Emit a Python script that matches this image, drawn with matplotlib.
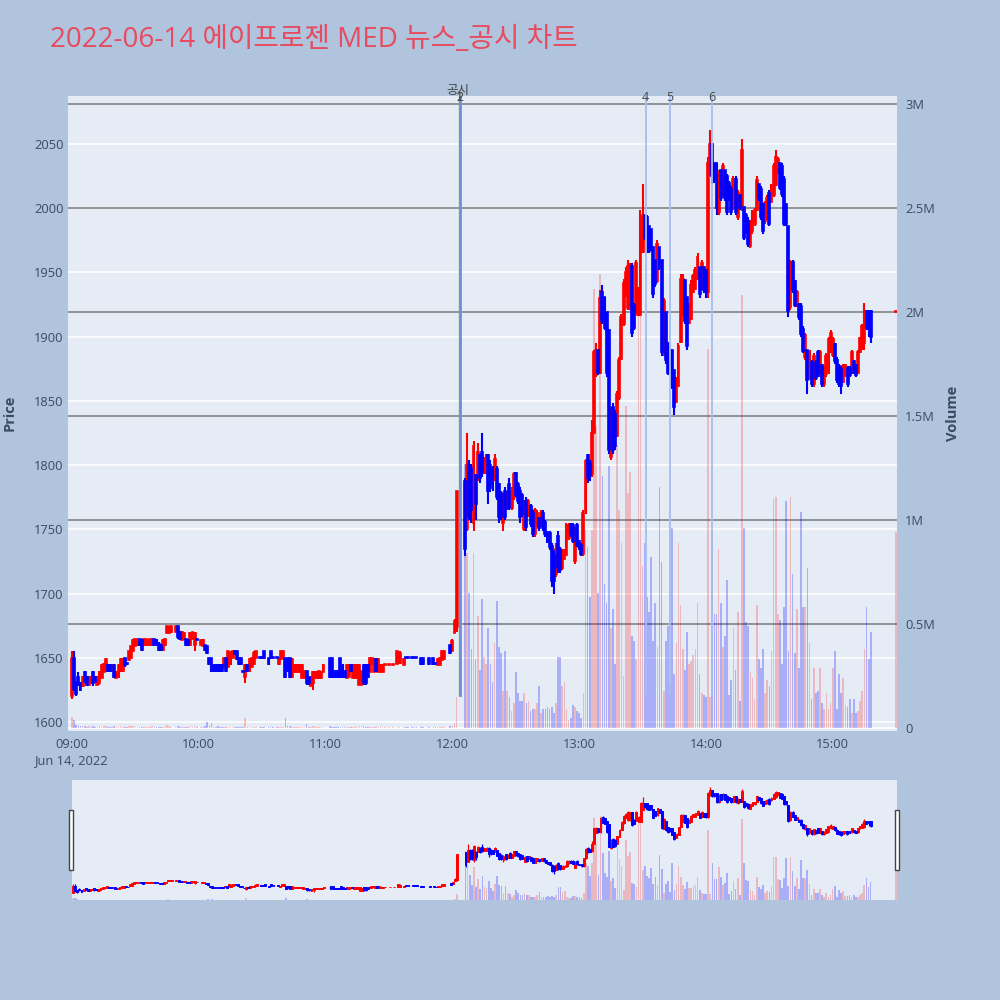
import matplotlib
matplotlib.use("Agg")
import matplotlib.pyplot as plt
import matplotlib.transforms as mtransforms
from matplotlib.patches import Rectangle

TITLE = "2022-06-14 에이프로젠 MED 뉴스_공시 차트"

# minutes after 09:00 (morning has minutes with no trades)
minutes = (list(range(0, 48)) + list(range(49, 60)) + list(range(61, 88))
           + [89, 90, 91, 93, 94, 95, 97] + list(range(98, 120)) + list(range(122, 148))
           + [148, 150, 152, 154, 155, 157, 158, 159, 161, 162,
              163, 165, 166, 169, 171, 172, 173, 174, 175, 176]
           + [179, 180, 181, 182] + list(range(186, 379)) + [390])

opens = [
    1620, 1650, 1630, 1635, 1630, 1628, 1639, 1635, 1629, 1630,
    1639, 1635, 1629, 1630, 1634, 1639, 1640, 1644, 1644, 1640,
    1644, 1634, 1635, 1640, 1640, 1650, 1646, 1648, 1650, 1655,
    1659, 1660, 1665, 1664, 1660, 1660, 1660, 1660, 1660, 1665,
    1664, 1661, 1660, 1656, 1660, 1669, 1669, 1670,
    1670, 1675, 1670, 1664, 1665, 1665, 1664, 1660, 1665, 1660, 1665,
    1660, 1659, 1660, 1659, 1650, 1650, 1644, 1644, 1644, 1644,
    1644, 1643, 1650, 1643, 1645, 1650, 1655, 1655, 1650, 1650,
    1640, 1635, 1644, 1640, 1643, 1645, 1650,
    1651, 1651, 1655, 1650, 1655, 1651, 1651,
    1645, 1649, 1650, 1650, 1650, 1650, 1635, 1639, 1639, 1639,
    1639, 1634, 1634, 1640, 1635, 1628, 1630, 1634, 1634, 1634, 1634, 1639,
    1650, 1650, 1640, 1640, 1640, 1650, 1644, 1640, 1634, 1635,
    1644, 1634, 1634, 1634, 1629, 1629, 1644, 1644, 1644, 1639,
    1645, 1639, 1649, 1639, 1639, 1639,
    1644, 1644, 1644, 1645, 1646, 1644, 1651, 1651, 1651, 1651,
    1651, 1650, 1650, 1650, 1650, 1646, 1644, 1644, 1648, 1649,
    1660, 1655, 1669, 1674,
    1788, 1750, 1800, 1798, 1755, 1792, 1790, 1808, 1810, 1794,
    1795, 1808, 1800, 1797, 1790, 1797, 1785, 1778, 1755, 1780,
    1766, 1785, 1767, 1775, 1794, 1785, 1780, 1777, 1750, 1772,
    1761, 1768, 1763, 1746, 1754, 1759, 1753, 1763, 1756, 1748,
    1747, 1737, 1730, 1715, 1745, 1735, 1720, 1727, 1730, 1743,
    1754, 1753, 1725, 1753, 1741, 1738, 1731, 1764, 1808, 1802, 1793,
    1825, 1870, 1890, 1872, 1935, 1931, 1919, 1905, 1806, 1845,
    1840, 1823, 1852, 1883, 1910, 1932, 1922, 1922, 1955, 1925,
    1919, 1917, 1917, 1966, 1995, 1993, 1986, 1984, 1970, 1960,
    1943, 1970, 1960, 1886, 1919, 1895, 1890, 1890, 1874, 1849,
    1862, 1896, 1917, 1944, 1931, 1911, 1914, 1935, 1937, 1945,
    1954, 1937, 1954, 1952,
    1935, 2028, 2050, 2035, 2035, 1997, 2030, 2010, 2030, 2025,
    2020, 2015, 2000, 2023, 1993, 2010, 2000, 2001, 1995, 1990,
    1971, 1982, 1988, 1999, 2019, 2015, 2003, 1990, 1993, 2012,
    2005, 2010, 2018, 2028, 2035, 2033, 2023, 2003, 1986, 1923,
    1958, 1943, 1924, 1925, 1924, 1906, 1884, 1890, 1868, 1880,
    1863, 1880, 1888, 1871, 1878, 1863, 1871, 1873, 1889, 1886,
    1894, 1882, 1877, 1875, 1865, 1870, 1876, 1876, 1872, 1881,
    1878, 1872, 1888, 1891, 1895, 1920, 1920, 1920,
    1919,
]

highs = [
    1655, 1655, 1632, 1639, 1631, 1636, 1640, 1636, 1636, 1636,
    1640, 1636, 1636, 1640, 1645, 1646, 1650, 1645, 1645, 1645,
    1645, 1640, 1645, 1650, 1650, 1650, 1646, 1655, 1659, 1665,
    1665, 1665, 1665, 1665, 1665, 1665, 1664, 1665, 1665, 1665,
    1665, 1662, 1660, 1665, 1665, 1675, 1675, 1675,
    1675, 1675, 1670, 1670, 1670, 1665, 1665, 1670, 1670, 1670, 1665,
    1664, 1665, 1660, 1659, 1650, 1650, 1645, 1645, 1645, 1645,
    1645, 1650, 1650, 1655, 1655, 1655, 1655, 1655, 1650, 1650,
    1640, 1645, 1645, 1650, 1650, 1655, 1655,
    1651, 1651, 1655, 1650, 1655, 1651, 1651,
    1650, 1655, 1655, 1650, 1650, 1650, 1650, 1645, 1645, 1645,
    1645, 1645, 1640, 1640, 1635, 1635, 1640, 1640, 1640, 1640, 1640, 1645,
    1650, 1650, 1640, 1640, 1640, 1650, 1645, 1640, 1645, 1645,
    1645, 1645, 1645, 1645, 1645, 1640, 1645, 1645, 1645, 1650,
    1650, 1650, 1650, 1650, 1645, 1645,
    1645, 1645, 1645, 1655, 1655, 1650, 1651, 1651, 1651, 1651,
    1651, 1650, 1650, 1650, 1650, 1646, 1650, 1650, 1655, 1655,
    1660, 1665, 1680, 1780,
    1790, 1825, 1804, 1801, 1819, 1793, 1817, 1809, 1825, 1806,
    1809, 1809, 1804, 1799, 1809, 1799, 1786, 1780, 1778, 1783,
    1780, 1790, 1783, 1795, 1795, 1787, 1783, 1778, 1773, 1775,
    1774, 1770, 1765, 1767, 1765, 1760, 1765, 1765, 1757, 1749,
    1749, 1739, 1734, 1739, 1749, 1736, 1735, 1735, 1755, 1755,
    1755, 1755, 1752, 1755, 1742, 1739, 1765, 1805, 1809, 1804, 1835,
    1890, 1895, 1890, 1936, 1940, 1931, 1919, 1905, 1845, 1848,
    1843, 1858, 1884, 1918, 1945, 1954, 1960, 1957, 1957, 1926,
    1960, 1939, 1999, 2019, 1995, 1995, 1986, 1984, 1970, 1960,
    1975, 1970, 1960, 1930, 1919, 1895, 1890, 1890, 1874, 1869,
    1895, 1949, 1949, 1944, 1931, 1926, 1944, 1949, 1954, 1965,
    1954, 1960, 1954, 1952,
    2040, 2061, 2050, 2035, 2035, 2030, 2030, 2035, 2030, 2027,
    2021, 2017, 2025, 2025, 2014, 2010, 2054, 2001, 1996, 1993,
    1991, 1999, 2000, 2025, 2019, 2017, 2004, 2006, 2010, 2014,
    2019, 2035, 2045, 2040, 2035, 2035, 2025, 2004, 1986, 1960,
    1960, 1944, 1936, 1926, 1926, 1908, 1903, 1890, 1890, 1882,
    1887, 1882, 1890, 1890, 1879, 1877, 1887, 1900, 1905, 1900,
    1895, 1884, 1879, 1877, 1879, 1879, 1877, 1877, 1890, 1882,
    1879, 1890, 1900, 1910, 1926, 1921, 1921, 1921,
    1920,
]

lows = [
    1618, 1624, 1620, 1628, 1624, 1627, 1630, 1628, 1629, 1630,
    1628, 1630, 1629, 1629, 1634, 1639, 1639, 1639, 1639, 1639,
    1634, 1634, 1634, 1639, 1639, 1643, 1644, 1648, 1650, 1655,
    1659, 1659, 1659, 1655, 1659, 1659, 1659, 1659, 1659, 1659,
    1659, 1655, 1655, 1655, 1659, 1669, 1669, 1669,
    1670, 1665, 1664, 1664, 1664, 1659, 1659, 1659, 1665, 1655, 1664,
    1660, 1659, 1655, 1653, 1644, 1639, 1639, 1639, 1639, 1639,
    1639, 1643, 1639, 1643, 1644, 1650, 1652, 1648, 1644, 1644,
    1639, 1630, 1639, 1639, 1643, 1644, 1650,
    1650, 1650, 1649, 1644, 1649, 1650, 1650,
    1644, 1648, 1650, 1634, 1639, 1634, 1634, 1639, 1639, 1639,
    1639, 1634, 1634, 1629, 1629, 1628, 1625, 1634, 1634, 1634, 1634, 1639,
    1634, 1634, 1634, 1634, 1634, 1634, 1634, 1634, 1634, 1635,
    1639, 1634, 1634, 1634, 1629, 1629, 1629, 1629, 1634, 1639,
    1644, 1639, 1639, 1639, 1639, 1639,
    1644, 1644, 1644, 1645, 1645, 1644, 1650, 1650, 1650, 1650,
    1650, 1644, 1644, 1644, 1644, 1644, 1644, 1644, 1648, 1648,
    1653, 1655, 1669, 1670,
    1729, 1749, 1757, 1755, 1749, 1757, 1788, 1786, 1791, 1793,
    1793, 1770, 1779, 1780, 1788, 1773, 1755, 1757, 1749, 1757,
    1765, 1765, 1765, 1773, 1775, 1770, 1755, 1760, 1749, 1749,
    1760, 1752, 1744, 1744, 1752, 1749, 1752, 1749, 1744, 1739,
    1734, 1705, 1700, 1713, 1716, 1716, 1718, 1726, 1729, 1742,
    1744, 1739, 1723, 1736, 1734, 1729, 1729, 1762, 1786, 1788, 1791,
    1825, 1869, 1870, 1871, 1910, 1905, 1869, 1809, 1804, 1809,
    1812, 1822, 1851, 1882, 1908, 1931, 1921, 1921, 1900, 1905,
    1918, 1916, 1916, 1965, 1975, 1965, 1965, 1967, 1930, 1939,
    1942, 1952, 1885, 1885, 1879, 1870, 1874, 1859, 1839, 1848,
    1861, 1895, 1916, 1910, 1890, 1910, 1913, 1934, 1936, 1944,
    1930, 1936, 1934, 1930,
    1930, 2025, 2019, 2020, 1995, 1995, 2006, 2009, 2006, 1995,
    2006, 1995, 1999, 1995, 1991, 1999, 1998, 1975, 1980, 1970,
    1969, 1980, 1986, 1998, 2006, 1991, 1980, 1988, 1991, 1986,
    2004, 2009, 2017, 2027, 2014, 2009, 1986, 1986, 1915, 1921,
    1934, 1923, 1923, 1913, 1900, 1887, 1882, 1855, 1866, 1861,
    1861, 1866, 1869, 1869, 1861, 1861, 1869, 1871, 1887, 1884,
    1879, 1864, 1861, 1855, 1864, 1869, 1861, 1869, 1871, 1871,
    1869, 1871, 1887, 1890, 1890, 1905, 1900, 1895,
    1919,
]

closes = [
    1650, 1626, 1622, 1630, 1625, 1635, 1632, 1629, 1635, 1635,
    1630, 1631, 1635, 1639, 1644, 1645, 1649, 1640, 1640, 1644,
    1635, 1639, 1644, 1649, 1649, 1644, 1645, 1655, 1659, 1664,
    1665, 1665, 1660, 1656, 1665, 1665, 1664, 1665, 1665, 1660,
    1660, 1656, 1656, 1664, 1665, 1675, 1674, 1675,
    1675, 1666, 1665, 1670, 1669, 1660, 1660, 1669, 1670, 1669, 1664,
    1664, 1664, 1656, 1654, 1645, 1640, 1640, 1640, 1640, 1640,
    1640, 1650, 1640, 1655, 1654, 1655, 1653, 1649, 1645, 1645,
    1639, 1644, 1640, 1649, 1650, 1654, 1655,
    1650, 1650, 1650, 1645, 1650, 1650, 1650,
    1650, 1655, 1655, 1635, 1640, 1635, 1649, 1644, 1644, 1644,
    1644, 1644, 1640, 1630, 1630, 1635, 1639, 1639, 1639, 1640, 1639, 1644,
    1635, 1635, 1635, 1635, 1635, 1635, 1635, 1635, 1644, 1644,
    1640, 1644, 1644, 1644, 1644, 1640, 1630, 1630, 1635, 1650,
    1650, 1649, 1640, 1649, 1644, 1644,
    1645, 1645, 1645, 1655, 1654, 1649, 1650, 1650, 1650, 1650,
    1650, 1645, 1645, 1645, 1645, 1645, 1649, 1650, 1655, 1655,
    1654, 1663, 1679, 1780,
    1735, 1800, 1760, 1765, 1815, 1770, 1810, 1790, 1795, 1805,
    1805, 1780, 1785, 1782, 1805, 1775, 1760, 1760, 1775, 1760,
    1778, 1767, 1780, 1793, 1777, 1772, 1760, 1762, 1770, 1752,
    1772, 1754, 1746, 1765, 1763, 1751, 1763, 1751, 1746, 1741,
    1736, 1710, 1710, 1735, 1720, 1718, 1733, 1733, 1753, 1753,
    1746, 1741, 1750, 1738, 1736, 1731, 1763, 1803, 1790, 1792, 1825,
    1888, 1890, 1872, 1930, 1912, 1907, 1872, 1812, 1840, 1812,
    1815, 1855, 1882, 1915, 1942, 1950, 1955, 1955, 1903, 1907,
    1957, 1935, 1995, 1993, 1977, 1968, 1967, 1969, 1933, 1941,
    1972, 1954, 1888, 1928, 1882, 1872, 1876, 1862, 1845, 1867,
    1893, 1945, 1945, 1912, 1893, 1925, 1940, 1947, 1952, 1962,
    1933, 1957, 1936, 1935,
    2035, 2050, 2025, 2022, 2000, 2028, 2008, 2033, 2008, 1997,
    2008, 1997, 2023, 1997, 2012, 2000, 2045, 1977, 1982, 1972,
    1989, 1997, 1999, 2022, 2008, 1993, 1982, 2004, 2008, 1988,
    2017, 2033, 2040, 2038, 2016, 2011, 1988, 1988, 1920, 1958,
    1936, 1925, 1935, 1915, 1902, 1889, 1901, 1866, 1888, 1863,
    1885, 1868, 1871, 1888, 1863, 1875, 1885, 1898, 1903, 1898,
    1881, 1866, 1863, 1862, 1877, 1878, 1863, 1870, 1888, 1872,
    1870, 1888, 1899, 1908, 1920, 1907, 1910, 1900,
    1920,
]

# traded volume, thousands of shares
volumes_k = [
    55, 40, 15, 10, 12, 8, 10, 6, 9, 5,
    8, 5, 7, 10, 6, 8, 12, 5, 6, 4,
    9, 5, 7, 10, 6, 5, 3, 8, 12, 9,
    6, 5, 4, 7, 5, 6, 4, 5, 8, 4,
    5, 6, 4, 7, 5, 14, 8, 6,
    5, 9, 6, 5, 4, 7, 5, 8, 4, 10, 3,
    5, 4, 12, 30, 10, 22, 6, 5, 8, 4,
    5, 6, 5, 7, 4, 5, 3, 4, 5, 4,
    3, 47, 5, 6, 5, 7, 4,
    3, 3, 5, 4, 5, 3, 3,
    5, 6, 4, 47, 8, 10, 7, 5, 4, 6,
    4, 5, 6, 20, 6, 5, 8, 4, 5, 6, 4, 5,
    8, 6, 5, 4, 5, 7, 4, 5, 6, 4,
    5, 6, 4, 5, 12, 6, 8, 5, 4, 6,
    5, 4, 5, 6, 4, 5,
    3, 3, 3, 6, 5, 4, 3, 3, 3, 3,
    3, 4, 4, 4, 5, 3, 5, 4, 6, 5,
    8, 10, 25, 150,
    1270, 840, 650, 380, 840, 330, 540, 280, 620, 340,
    310, 480, 310, 220, 410, 610, 390, 360, 180, 370,
    180, 150, 80, 120, 270, 170, 130, 130, 170, 120,
    130, 80, 90, 90, 120, 200, 70, 90, 90, 100,
    90, 100, 70, 120, 340, 340, 200, 220, 90, 40,
    50, 110, 100, 80, 70, 50, 170, 950, 870, 630,
    950, 2110, 1450, 650, 2180, 1210, 690, 600, 1260, 480,
    570, 310, 1360, 1050, 890, 250, 1550, 1130, 1230, 440,
    420, 330, 1990, 2030, 780, 890, 630, 560, 820, 420,
    600, 390, 1160, 800, 180, 420, 490, 210, 960, 260,
    410, 890, 590, 380, 280, 460, 310, 320, 350, 380,
    600, 260, 170, 160, 150,
    1820, 150, 950, 550, 550, 860, 600, 390, 440, 710,
    160, 230, 480, 280, 560, 130, 2080, 960, 510, 490,
    270, 240, 140, 590, 330, 290, 380, 170, 230, 200,
    370, 1100, 1110, 550, 520, 310, 580, 1090, 370, 1110,
    740, 360, 570, 290, 1040, 580, 580, 770, 410, 140,
    290, 170, 180, 290, 120, 90, 170, 90, 120, 290,
    370, 90, 260, 170, 240, 110, 100, 140, 70, 140,
    70, 80, 130, 180, 380, 580, 330, 460,
    940,
]

# news / disclosure markers (minutes after 09:00)
news_minutes = [183.6, 271.5, 283.0, 302.7]
news_labels = ["2", "4", "5", "6"]

price_ticks = [1600, 1650, 1700, 1750, 1800, 1850, 1900, 1950, 2000, 2050]
vol_ticks = [0, 0.5e6, 1e6, 1.5e6, 2e6, 2.5e6, 3e6]
vol_tick_labels = ["0", "0.5M", "1M", "1.5M", "2M", "2.5M", "3M"]
time_ticks = [0, 60, 120, 180, 240, 300, 360]
time_labels = ["09:00\nJun 14, 2022", "10:00", "11:00", "12:00", "13:00", "14:00", "15:00"]

assert len(minutes) == len(opens) == len(highs) == len(lows) == len(closes) == len(volumes_k)

RED = "#ff0000"
BLUE = "#0000ff"
TEXT = "#3b4a5f"
PLOT_BG = "#e5ecf6"

plt.rcParams["font.family"] = ["Open Sans", "Noto Sans CJK KR", "DejaVu Sans"]

rising = [c > o for o, c in zip(opens, closes)]
volumes = [v * 1000 for v in volumes_k]


def draw_candles(ax, wick_lw, body_lw, body_w):
    for flag, col in ((True, RED), (False, BLUE)):
        idx = [i for i, r in enumerate(rising) if r == flag]
        xs = [minutes[i] for i in idx]
        ax.vlines(xs, [lows[i] for i in idx], [highs[i] for i in idx],
                  color=col, lw=wick_lw, zorder=3)
        bottoms = [min(opens[i], closes[i]) for i in idx]
        heights = [max(abs(closes[i] - opens[i]), 0.6) for i in idx]
        ax.bar(xs, heights, bottom=bottoms, width=body_w, color=col,
               edgecolor=col, linewidth=body_lw, zorder=3)


def draw_volume(ax, width):
    for flag, col, a in ((True, RED, 0.22), (False, BLUE, 0.26)):
        idx = [i for i, r in enumerate(rising) if r == flag]
        ax.bar([minutes[i] for i in idx], [volumes[i] for i in idx],
               width=width, color=col, alpha=a, linewidth=0, zorder=2)


fig = plt.figure(figsize=(10, 10), dpi=100)
fig.patch.set_facecolor("#b0c4de")

XLIM = (-1.9, 390.4)
PLIM = (1593, 2087.4)
VLIM = (-0.0144e6, 3.038e6)

# main panel: volume axis underneath, price axis on top
ax_v = fig.add_axes([0.068, 0.269, 0.829, 0.635])
ax_v.set_facecolor(PLOT_BG)
ax_p = ax_v.twinx()

for ax in (ax_v, ax_p):
    for s in ax.spines.values():
        s.set_visible(False)
    ax.tick_params(length=0, colors=TEXT, labelsize=9.3)

ax_v.set_xlim(*XLIM)
ax_v.set_ylim(*VLIM)
ax_p.set_ylim(*PLIM)

ax_v.yaxis.tick_right()
ax_v.yaxis.set_label_position("right")
ax_p.yaxis.tick_left()
ax_p.yaxis.set_label_position("left")

ax_p.set_yticks(price_ticks)
ax_p.set_yticklabels([str(t) for t in price_ticks])
ax_v.set_yticks(vol_ticks)
ax_v.set_yticklabels(vol_tick_labels)
ax_v.set_xticks(time_ticks)
ax_v.set_xticklabels(time_labels, linespacing=1.3)
ax_p.tick_params(axis="y", pad=3)
ax_v.tick_params(axis="y", pad=6)
ax_v.tick_params(axis="x", pad=5)

# price grid drawn in the volume axes so the volume grid sits on top of it
price_grid_tr = mtransforms.blended_transform_factory(ax_v.transAxes, ax_p.transData)
for t in price_ticks:
    ax_v.plot([0, 1], [t, t], transform=price_grid_tr, color="white", lw=1.1, zorder=0.4)
for t in vol_ticks[1:]:
    ax_v.axhline(t, color="#8a8a8a", lw=1.3, zorder=0.5)
ax_v.axhline(0, color="white", lw=1.3, zorder=0.5)

draw_volume(ax_v, 0.8)
draw_candles(ax_p, 1.5, 1.2, 0.9)

# disclosure lines
ax_p.axvline(news_minutes[0] - 0.6, ymin=0.057, ymax=1, color="#86c08a", lw=1.0, zorder=4)
ax_p.axvline(news_minutes[0], ymin=0.057, ymax=1, color="#6d8fdc", lw=2.0, zorder=4)
for m in news_minutes[1:]:
    ax_p.axvline(m, ymin=0.057, ymax=1, color="#a9bbf2", lw=1.3, zorder=4)

trans = mtransforms.blended_transform_factory(ax_p.transData, ax_p.transAxes)
ax_p.text(news_minutes[0] - 1.2, 1.0094, "공시", transform=trans, ha="center",
          va="center", fontsize=9, color="#444444", zorder=6, clip_on=False)
ax_p.text(news_minutes[0] - 0.3, 0.9984, "1", transform=trans, ha="center",
          va="center", fontsize=9, color="#444444", zorder=6, clip_on=False)
for m, lab in zip(news_minutes, news_labels):
    ax_p.text(m, 0.9984, lab, transform=trans, ha="center", va="center",
              fontsize=9, color="#444444", zorder=6, clip_on=False)

fig.text(0.05, 0.960, TITLE, fontsize=20, color="#e84a5f", va="center", ha="left")
fig.text(0.010, 0.587, "Price", rotation=90, fontsize=10.5, fontweight="bold",
         color=TEXT, va="center", ha="center")
fig.text(0.953, 0.587, "Volume", rotation=90, fontsize=10.5, fontweight="bold",
         color=TEXT, va="center", ha="center")

# range slider
ax_sv = fig.add_axes([0.072, 0.100, 0.825, 0.120])
ax_sv.set_facecolor(PLOT_BG)
ax_sp = ax_sv.twinx()
for ax in (ax_sv, ax_sp):
    for s in ax.spines.values():
        s.set_visible(False)
    ax.set_xticks([])
    ax.set_yticks([])
ax_sv.set_xlim(-0.5, 390.5)
ax_sv.set_ylim(0, 3.1e6)
ax_sp.set_ylim(1590, 2090)
draw_volume(ax_sv, 0.8)
draw_candles(ax_sp, 0.9, 0.7, 0.9)

for x0 in (0.0688, 0.8948):
    fig.add_artist(Rectangle((x0, 0.130), 0.0042, 0.060, transform=fig.transFigure,
                             facecolor="white", edgecolor="#444444", lw=1.0))

fig.savefig("out.png", dpi=100, facecolor=fig.get_facecolor())
